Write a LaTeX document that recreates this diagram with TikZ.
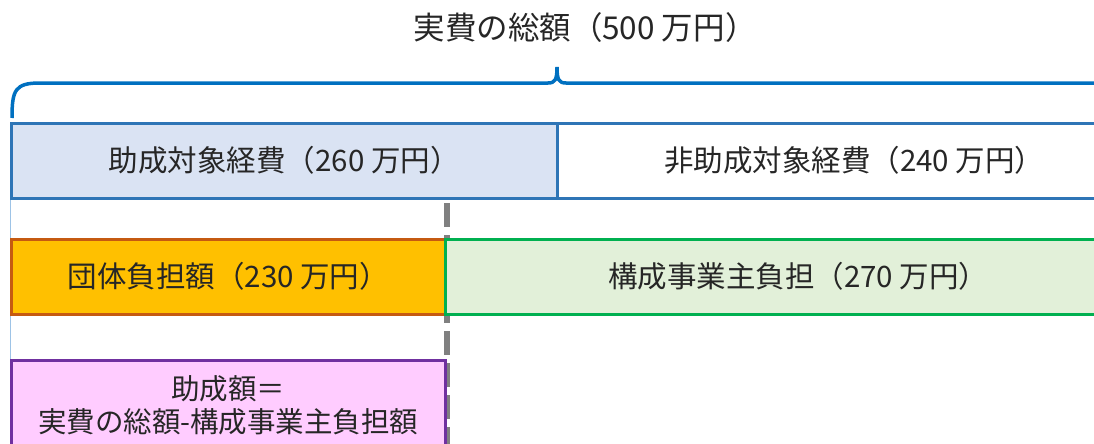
\documentclass[tikz,border=0pt]{standalone}
\usepackage{fontspec}
\setmainfont{Noto Sans CJK JP}
\usepackage{tikz}

\definecolor{bracec}{HTML}{0070C0}
\definecolor{rowblue}{HTML}{2E75B6}
\definecolor{paleblue}{HTML}{DAE3F3}
\definecolor{edgeblue}{HTML}{9DC3E6}
\definecolor{ambfill}{HTML}{FFC000}
\definecolor{ambedge}{HTML}{C55A11}
\definecolor{mintfill}{HTML}{E2F0D9}
\definecolor{mintedge}{HTML}{00B050}
\definecolor{pinkfill}{HTML}{FFCCFF}
\definecolor{pinkedge}{HTML}{7030A0}
\definecolor{inkc}{HTML}{262626}
\definecolor{dashc}{HTML}{808080}

\begin{document}
\begin{tikzpicture}[x = 1pt, y = -1pt,
    font = \fontsize{29.5}{34}\selectfont, text = inkc,
    costbox/.style = {rectangle, line width = 2.5pt, anchor = north west,
        inner sep = 0pt, minimum height = 75pt},
    splitline/.style = {dashc, line width = 6pt, dash pattern = on 24pt off 8pt}]
        \useasboundingbox (0,0) rectangle (1094,444);
        \clip (0,0) rectangle (1094,444);

        \node [font = \fontsize{31.5}{36}\selectfont] (total) at (585,28)
        {実費の総額（500 万円）};

        % brace over the whole cost
        \draw [bracec, line width = 3.5pt]
        (12,118) .. controls (12,90) and (15,83) .. (40,83)
        -- (548,83) .. controls (555,83) and (557,80) .. (557,67)
        .. controls (557,80) and (559,83) .. (566,83)
        -- (1110,83);

        \coordinate (dashtop) at (447,203);
        \coordinate (dashbot) at (447,450);
        \draw [splitline] (dashtop) -- (dashbot);

        \node [costbox, fill = paleblue, draw = rowblue, minimum width = 546pt]
        (subsidy) at (10,122) {助成対象経費（260 万円）};
        \node [costbox, fill = white, draw = rowblue, minimum width = 594pt]
        (nonsubsidy) at (556,122) {非助成対象経費（240 万円）};

        \coordinate (leftbot) at (10,450);
        \draw [edgeblue, line width = 1pt] (subsidy.south west) -- (leftbot);

        \node [costbox, fill = ambfill, draw = ambedge, minimum width = 434pt]
        (group) at (10,238) {団体負担額（230 万円）};
        \node [costbox, fill = mintfill, draw = mintedge, minimum width = 706pt]
        (employer) at (444,238) {構成事業主負担（270 万円）};

        \node [costbox, fill = pinkfill, draw = pinkedge, minimum width = 434pt,
        minimum height = 90pt, align = center,
        font = \fontsize{28.5}{33}\selectfont]
        (grant) at (10,359) {助成額＝\\実費の総額-構成事業主負担額};
    \end{tikzpicture}
\end{document}
